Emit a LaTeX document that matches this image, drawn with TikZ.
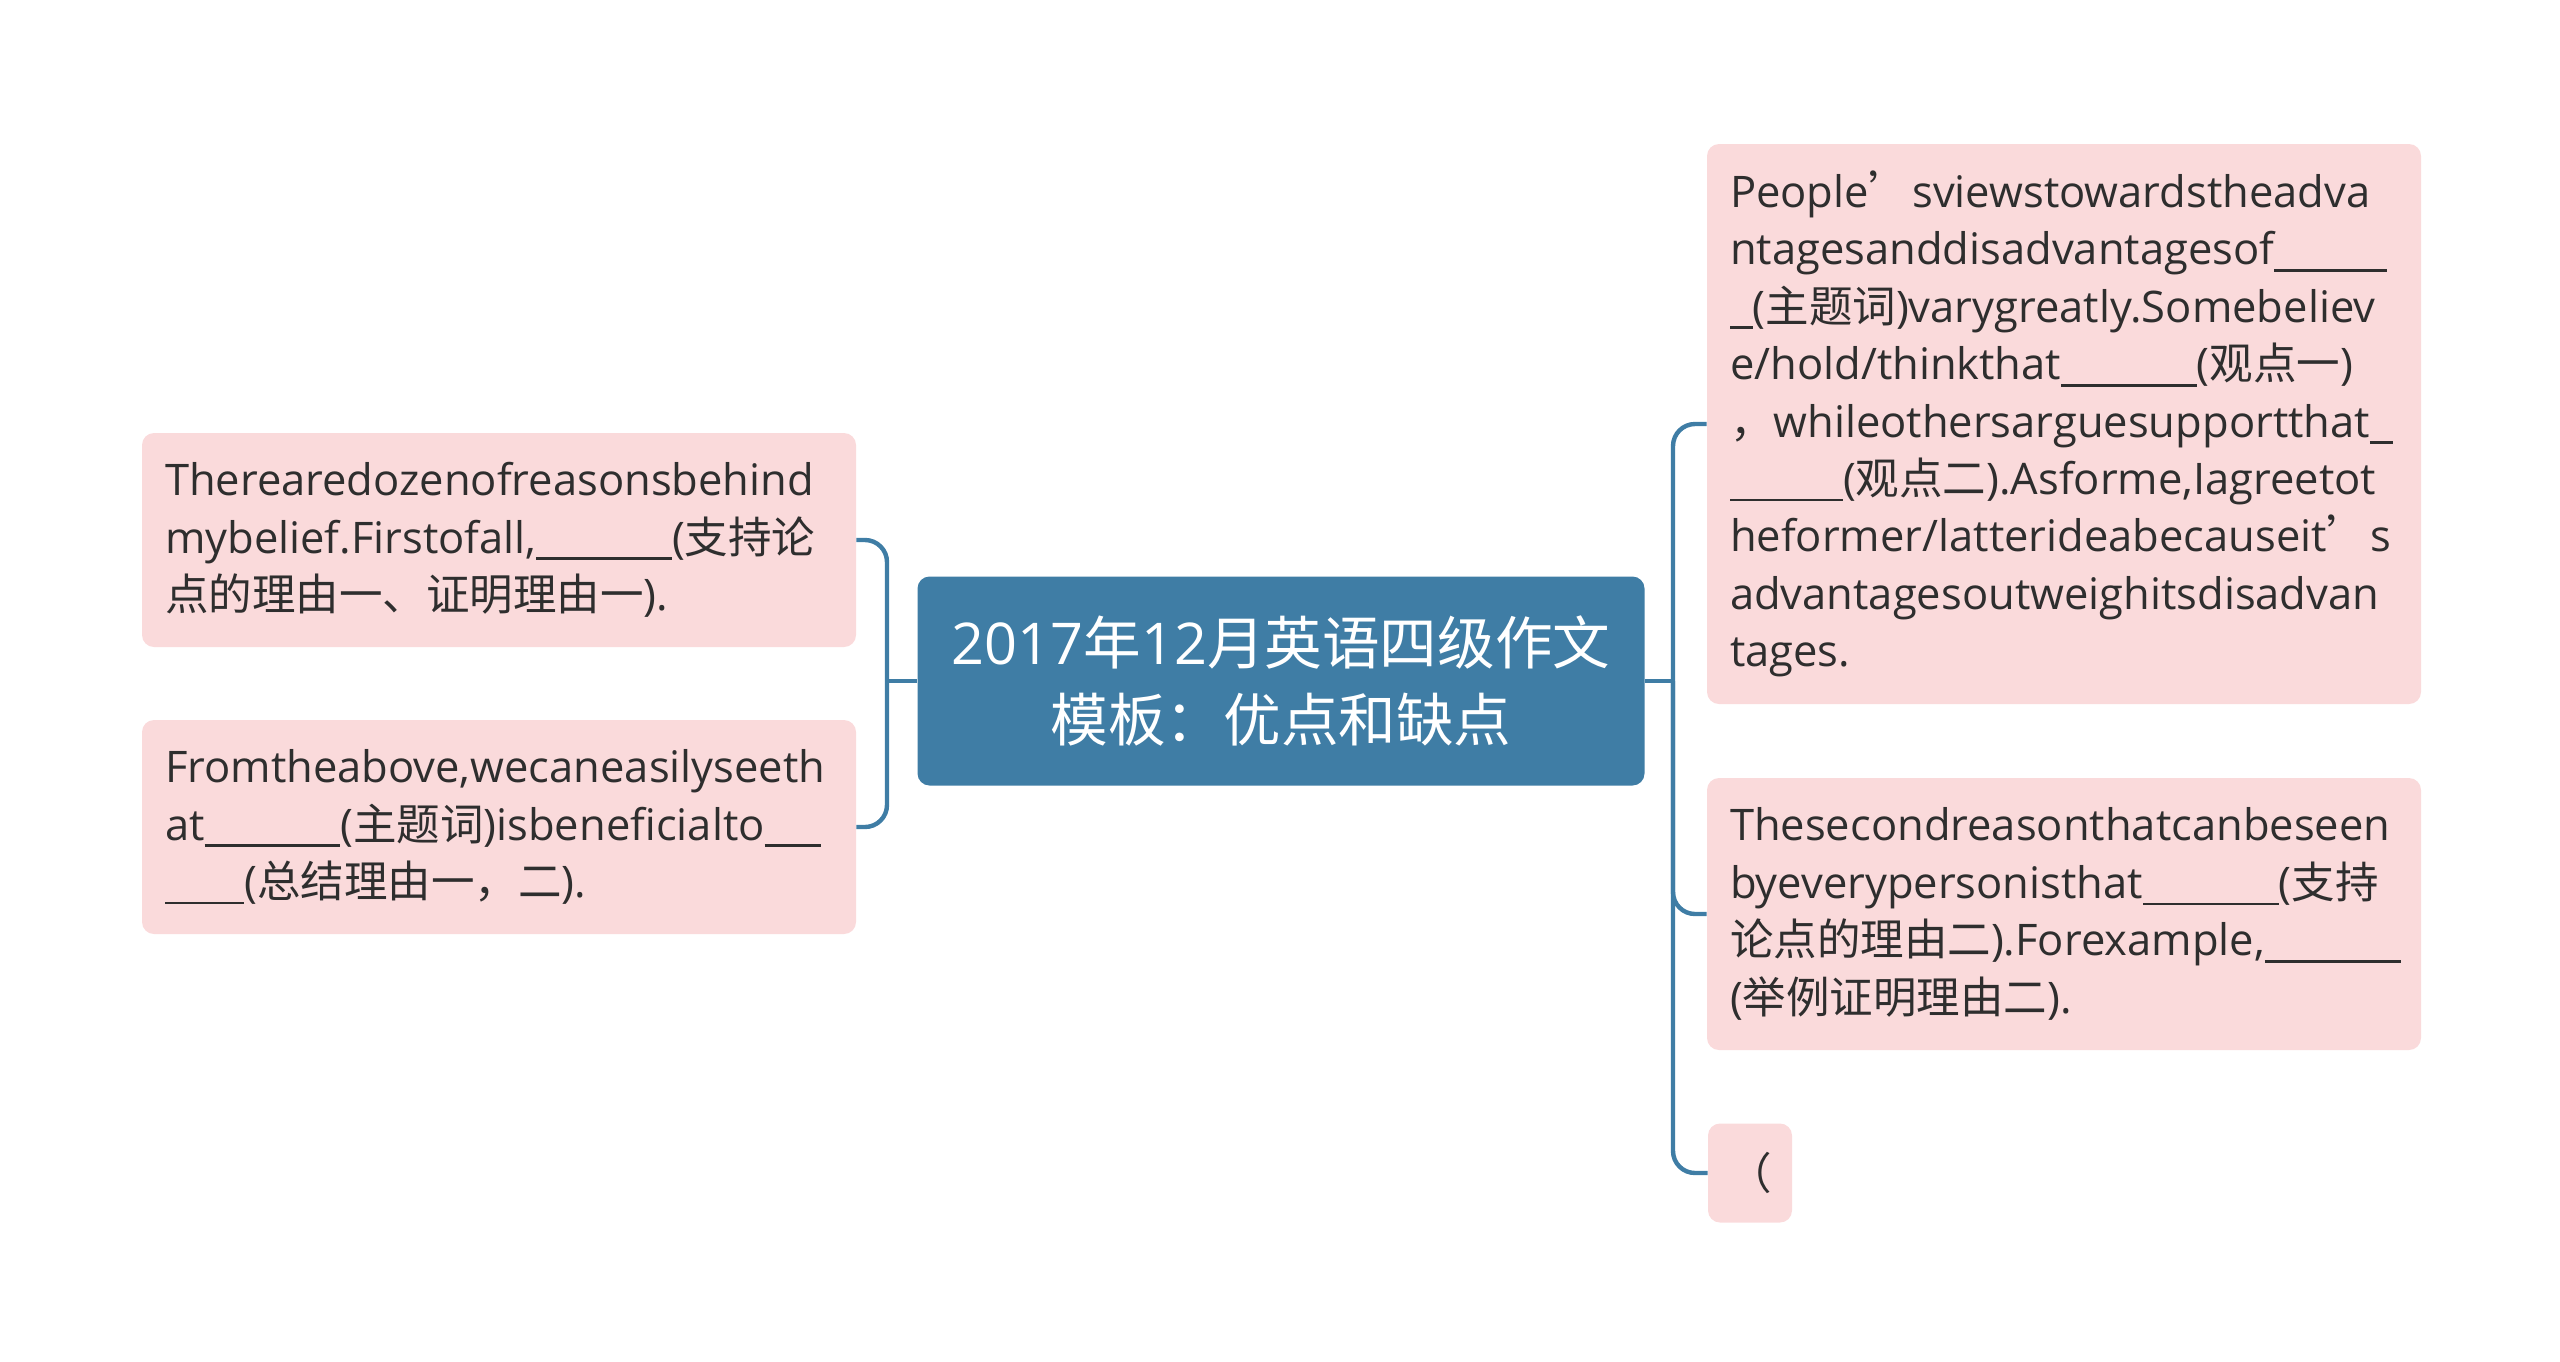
\documentclass[tikz,border=0pt]{standalone}
\usepackage{fontspec}
\setmainfont{Open Sans}
\newfontfamily\zhfont{Noto Sans CJK SC}
\newcommand{\zh}[1]{{\zhfont #1}}
\newcommand{\fillin}[1]{\rule[-0.16em]{#1\dimexpr 0.52em\relax}{0.065em}}
\usetikzlibrary{positioning}
\definecolor{topicblue}{HTML}{3F7DA5}
\definecolor{leafpink}{HTML}{FADADB}
\definecolor{leaftext}{HTML}{2E2E2E}

\begin{document}
\begin{tikzpicture}[x=0.5pt, y=-0.5pt,
    every node/.style={font=\fontsize{21.75}{28.7}\selectfont},
    leafbox/.style={fill=leafpink, rounded corners=6pt, text=leaftext, align=left,
      text width=334pt, inner xsep=11.5pt, inner ysep=0pt},
    topicbox/.style={fill=topicblue, rounded corners=6pt, text=white, align=center,
      minimum width=363.5pt, minimum height=104.5pt, font=\fontsize{28.8}{38.5}\selectfont},
    branch/.style={draw=topicblue, line width=2.2pt, rounded corners=11pt}]
    \useasboundingbox (0,0) rectangle (2560,1361);

    % Central topic
    \node[topicbox] (topic) at (1281,681) {2017\zh{年}12\zh{月英语四级作文}\\\zh{模板：优点和缺点}};

    % Left side
    \node[leafbox, minimum height=107pt] (reasonA) at (499,540)
      {Therearedozenofreasonsbehind\\mybelief.Firstofall,\fillin{6}(\zh{支持论}\\\zh{点的理由一、证明理由一}).};
    \node[leafbox, minimum height=107pt] (summary) at (499,827)
      {Fromtheabove,wecaneasilyseeth\\at\fillin{6}(\zh{主题词})isbeneficialto\fillin{2.5}\\\fillin{3.5}(\zh{总结理由一，二}).};

    % Right side
    \node[leafbox, minimum height=280pt] (views) at (2064,424)
      {People\zh{’}sviewstowardstheadva\\ntagesanddisadvantagesof\fillin{5}\\\fillin{1}(\zh{主题词})varygreatly.Somebeliev\\e/hold/thinkthat\fillin{6}(\zh{观点一})\\\zh{，}whileothersarguesupportthat\fillin{1}\\\fillin{5}(\zh{观点二}).Asforme,Iagreetot\\heformer/latterideabecauseit\zh{’}s\\advantagesoutweighitsdisadvan\\tages.};
    \node[leafbox, minimum height=136pt] (reasonB) at (2064,914)
      {Thesecondreasonthatcanbeseen\\byeverypersonisthat\fillin{6}(\zh{支持}\\\zh{论点的理由二}).Forexample,\fillin{6}\\(\zh{举例证明理由二}).};
    \node[fill=leafpink, rounded corners=6pt, text=leaftext, inner sep=0pt,
      minimum width=42pt, minimum height=49.5pt] (blank) at (1750,1173) {\zh{（}};

    % Connectors
    \coordinate (lfork) at (887,681);
    \coordinate (rfork) at (1673,681);
    \draw[branch] (topic.west) -- (lfork);
    \draw[branch] (reasonA.east) -| (lfork) |- (summary.east);
    \draw[branch] (topic.east) -- (rfork);
    \draw[branch] (views.west) -| (rfork) |- (blank.west);
    \draw[branch] (rfork) |- (reasonB.west);
\end{tikzpicture}
\end{document}
